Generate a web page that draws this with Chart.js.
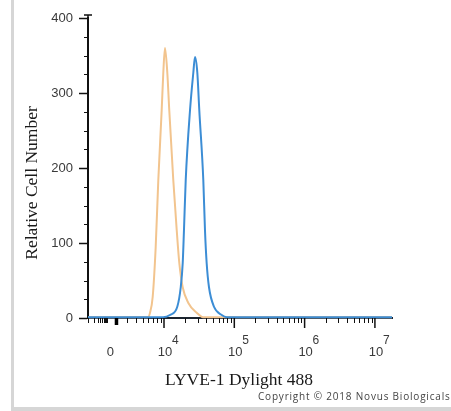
<!DOCTYPE html>
<html>
<head>
<meta charset="utf-8">
<script src="https://cdn.jsdelivr.net/npm/chart.js@4.4.1/dist/chart.umd.min.js"></script>
<style>
  html, body { margin: 0; padding: 0; background: #fff; }
  #wrap { position: relative; width: 451px; height: 411px; overflow: hidden; }
  #frameLeft { position: absolute; left: 11px; top: 0; width: 3px; height: 411px; background: #d6d6d6; }
  #frameBottom { position: absolute; left: 11px; top: 407px; width: 440px; height: 4px; background: #d6d6d6; }
  canvas { position: absolute; left: 0; top: 0; }
</style>
</head>
<body>
<div id="wrap">
  <div id="frameLeft"></div>
  <div id="frameBottom"></div>
  <canvas id="histo" width="451" height="411"></canvas>
</div>
<script>
// x values are positions on the display axis in decades (log10 of intensity),
// the axis runs a bit into the negative / linear zone left of "0"
const X_MIN = 2.919;
const X_MAX = 7.243;
const ZERO_POS = 3.324;

const xTickValues = [ZERO_POS, 4, 5, 6, 7];
const xTickBase = ['0', '10', '10', '10', '10'];
const xTickExp = ['', '4', '5', '6', '7'];
const yTickValues = [0, 100, 200, 300, 400];

// isotype control (orange)
const orangePos = [X_MIN, 3.772, 3.801, 3.839, 3.882, 3.919, 3.967, 3.990, 4.014, 4.047, 4.075, 4.132, 4.181, 4.218, 4.266, 4.346, 4.465, 4.555, X_MAX];
const orangeCount = [1, 1, 7, 28, 95, 184, 277, 327, 360, 327, 277, 184, 117, 73, 41, 20, 7, 1, 1];

// LYVE-1 stained (blue)
const bluePos = [X_MIN, 3.986, 4.085, 4.189, 4.238, 4.266, 4.284, 4.309, 4.370, 4.417, 4.441, 4.474, 4.502, 4.559, 4.583, 4.607, 4.640, 4.711, 4.821, 4.892, X_MAX];
const blueCount = [1, 1, 4, 15, 41, 73, 117, 184, 277, 327, 348, 327, 277, 184, 117, 73, 41, 15, 4, 1, 1];

const xTitle = 'LYVE-1 Dylight 488';
const yTitle = 'Relative Cell Number';
const copyright = 'Copyright \u00A9 2018 Novus Biologicals';

function toPoints(xs, ys) {
    let pts = [];
    for (let i = 0; i < xs.length; i++) {
        pts.push({x: xs[i], y: ys[i]});
    }
    return pts;
}

// minor ticks: log steps inside each decade, squeezed log steps left of zero
function minorXTicks() {
    let out = [];
    for (let k = 1; k <= 9; k++) {
        out.push(ZERO_POS - 0.12 - 0.28 * (1 - Math.log10(k)));
    }
    for (let d = 3; d <= 6; d++) {
        for (let k = 2; k <= 9; k++) {
            const v = d + Math.log10(k);
            if (v > ZERO_POS + 0.08) out.push(v);
        }
    }
    return out;
}

const axisDecor = {
    id: 'axisDecor',
    afterDraw(chart) {
        const {ctx, scales: {x, y}} = chart;
        const base = y.getPixelForValue(0);
        ctx.save();

        // y minor ticks
        ctx.strokeStyle = '#111';
        ctx.lineWidth = 1;
        for (let v = 25; v < 400; v += 25) {
            if (v % 100 === 0) continue;
            const py = Math.round(y.getPixelForValue(v)) + 0.5;
            ctx.beginPath();
            ctx.moveTo(x.left - 4, py);
            ctx.lineTo(x.left, py);
            ctx.stroke();
        }
        // small cap on top of the y axis
        ctx.lineWidth = 1.5;
        ctx.beginPath();
        ctx.moveTo(x.left - 4, y.top - 3);
        ctx.lineTo(x.left + 4, y.top - 3);
        ctx.moveTo(x.left, y.top - 3);
        ctx.lineTo(x.left, y.top);
        ctx.stroke();

        // x minor ticks
        ctx.lineWidth = 1;
        for (const v of minorXTicks()) {
            const px = Math.round(x.getPixelForValue(v)) + 0.5;
            ctx.beginPath();
            ctx.moveTo(px, base);
            ctx.lineTo(px, base + 5);
            ctx.stroke();
        }

        // x major ticks
        ctx.lineWidth = 1.5;
        for (let i = 1; i < xTickValues.length; i++) {
            const px = x.getPixelForValue(xTickValues[i]);
            ctx.beginPath();
            ctx.moveTo(px, base);
            ctx.lineTo(px, base + 10);
            ctx.stroke();
        }
        // bold zero mark
        ctx.lineWidth = 3.5;
        ctx.strokeStyle = '#000';
        const pz = x.getPixelForValue(ZERO_POS);
        ctx.beginPath();
        ctx.moveTo(pz, base);
        ctx.lineTo(pz, base + 7);
        ctx.stroke();

        // x tick labels with exponents
        ctx.fillStyle = '#3a3a3a';
        ctx.textBaseline = 'middle';
        for (let i = 0; i < xTickValues.length; i++) {
            const px = x.getPixelForValue(xTickValues[i]);
            ctx.font = '13px "Liberation Sans", Arial, sans-serif';
            ctx.textAlign = 'center';
            ctx.fillText(xTickBase[i], i === 0 ? px - 6 : px + 1, base + 34);
            if (xTickExp[i]) {
                ctx.font = '12px "Liberation Sans", Arial, sans-serif';
                ctx.textAlign = 'left';
                ctx.fillText(xTickExp[i], px + 8, base + 23);
            }
        }

        // axis titles
        ctx.fillStyle = '#1a1a1a';
        ctx.font = '17.5px "Liberation Serif", "Times New Roman", serif';
        ctx.textAlign = 'center';
        ctx.textBaseline = 'alphabetic';
        ctx.fillText(xTitle, (x.left + x.right) / 2 - 1, base + 67);

        ctx.save();
        ctx.translate(37, 183);
        ctx.rotate(-Math.PI / 2);
        ctx.fillText(yTitle, 0, 0);
        ctx.restore();

        // copyright line
        ctx.fillStyle = '#444';
        ctx.font = '10px "Open Sans", sans-serif';
        ctx.textAlign = 'left';
        ctx.letterSpacing = '0.8px';
        ctx.fillText(copyright, 258, 400);

        ctx.restore();
    }
};

const chart = new Chart(document.getElementById('histo').getContext('2d'), {
    type: 'line',
    data: {
        datasets: [
            {
                label: 'LYVE-1',
                data: toPoints(bluePos, blueCount),
                borderColor: '#3c8dd5',
                borderWidth: 2,
                pointRadius: 0,
                cubicInterpolationMode: 'monotone',
                clip: 4
            },
            {
                label: 'Control',
                data: toPoints(orangePos, orangeCount),
                borderColor: '#f2c48e',
                borderWidth: 2,
                pointRadius: 0,
                cubicInterpolationMode: 'monotone',
                clip: 4
            }
        ]
    },
    options: {
        responsive: false,
        animation: false,
        events: [],
        layout: {
            padding: {left: 0, right: 59, top: 18, bottom: 0}
        },
        plugins: {
            legend: {display: false},
            tooltip: {enabled: false}
        },
        scales: {
            x: {
                type: 'linear',
                min: X_MIN,
                max: X_MAX,
                ticks: {display: false},
                grid: {display: false},
                border: {display: true, color: '#1b2430', width: 2},
                afterFit: function(scale) { scale.height = 93; }
            },
            y: {
                min: 0,
                max: 400,
                afterBuildTicks: function(scale) {
                    scale.ticks = yTickValues.map(v => ({value: v}));
                },
                ticks: {
                    color: '#3a3a3a',
                    padding: 6,
                    font: {family: '"Liberation Sans", Arial, sans-serif', size: 13}
                },
                grid: {
                    display: true,
                    drawOnChartArea: false,
                    drawTicks: true,
                    tickLength: 9,
                    tickWidth: 1.5,
                    tickColor: '#111'
                },
                border: {display: true, color: '#111', width: 2},
                afterFit: function(scale) { scale.width = 88; }
            }
        }
    },
    plugins: [axisDecor]
});
</script>
</body>
</html>
